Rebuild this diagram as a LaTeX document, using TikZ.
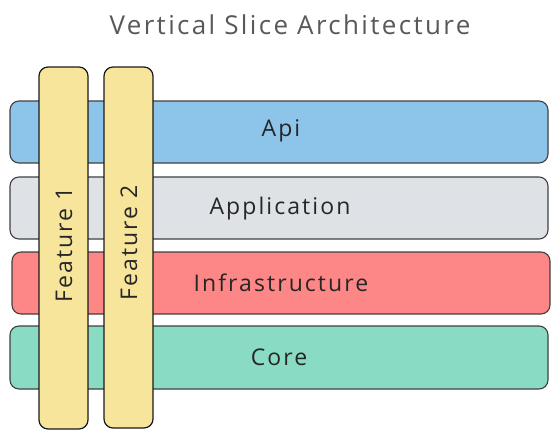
\documentclass[tikz,border=0pt]{standalone}
\usepackage{fontspec}
\setmainfont{Open Sans}[LetterSpace=9]
\begin{document}
\begin{tikzpicture}[x=1pt,y=-1pt,
  layer/.style={draw=black!75,line width=1.1pt,rounded corners=9pt},
  feat/.style={draw=black!90,line width=1.2pt,rounded corners=9pt,fill=featc},
  lbl/.style={text=black!85,font=\fontsize{23}{26}\selectfont},
]
\definecolor{apic}{HTML}{8DC5EA}
\definecolor{appc}{HTML}{DEE1E5}
\definecolor{infc}{HTML}{FD8787}
\definecolor{corec}{HTML}{89DBC4}
\definecolor{featc}{HTML}{F8E59C}
\useasboundingbox (0,0) rectangle (560,439);
\fill[white] (0,0) rectangle (560,439);
\node[text=black!65,font=\fontsize{26}{30}\selectfont] (title) at (290,25) {Vertical Slice Architecture};
\draw[layer,fill=apic] (10,101) rectangle (548,163);
\draw[layer,fill=appc] (10,177) rectangle (548,239);
\draw[layer,fill=infc] (12,252) rectangle (550,314);
\draw[layer,fill=corec] (10,326) rectangle (548,389);
\node[lbl] (api) at (281,131) {Api};
\node[lbl] (app) at (280,209) {Application};
\node[lbl] (inf) at (281,283) {Infrastructure};
\node[lbl] (core) at (279,357) {Core};
\draw[feat] (39,67) rectangle (88,429);
\draw[feat] (104,67) rectangle (153,428);
\node[lbl,rotate=90] (f1) at (64,245) {Feature 1};
\node[lbl,rotate=90] (f2) at (129,243) {Feature 2};
\end{tikzpicture}
\end{document}
